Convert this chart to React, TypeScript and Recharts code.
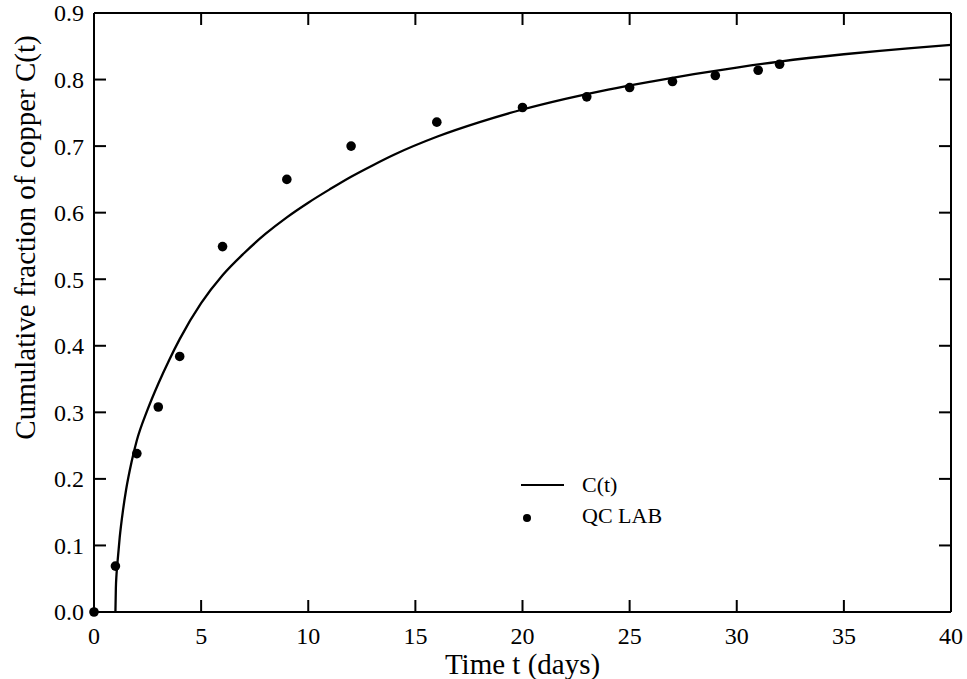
import React from 'react';
import { ComposedChart, Line, Scatter, XAxis, YAxis } from 'recharts';

// fitted curve C(t)
const curveDays = [1, 1.02, 1.05, 1.1, 1.2, 1.35, 1.5, 1.75, 2, 2.5, 3, 3.5, 4, 5, 6, 7, 8, 9, 10, 11, 12, 13, 14, 16, 18, 20, 22, 24, 26, 28, 30, 32, 35, 38, 40];
const curveFraction = [0, 0.035, 0.056, 0.076, 0.112, 0.152, 0.184, 0.225, 0.258, 0.304, 0.343, 0.378, 0.41, 0.464, 0.506, 0.539, 0.568, 0.593, 0.615, 0.635, 0.654, 0.671, 0.687, 0.714, 0.736, 0.755, 0.771, 0.785, 0.797, 0.808, 0.818, 0.827, 0.838, 0.847, 0.852];

// QC LAB measurements
const labDays = [0, 1, 2, 3, 4, 6, 9, 12, 16, 20, 23, 25, 27, 29, 31, 32];
const labFraction = [0, 0.069, 0.238, 0.308, 0.384, 0.549, 0.65, 0.7, 0.736, 0.758, 0.774, 0.788, 0.797, 0.806, 0.814, 0.823];

const xTicks = [0, 5, 10, 15, 20, 25, 30, 35, 40];
const yTicks = [0, 0.1, 0.2, 0.3, 0.4, 0.5, 0.6, 0.7, 0.8, 0.9];

const curveData = curveDays.map((t, i) => ({ t, y: curveFraction[i] }));
const labData = labDays.map((t, i) => ({ t, y: labFraction[i] }));

const FONT = '"Liberation Serif", "Times New Roman", serif';
const TICK_LEN = 12;
const X_GAP = 15;
const Y_GAP = 10;
const blank = () => '';
const axisStroke = { stroke: '#000', strokeWidth: 2 };

// label below the axis, tick mark pointing into the plot
const BottomTick = ({ x, y, payload }: any) => (
  <g>
    <line x1={x} x2={x} y1={y - X_GAP} y2={y - X_GAP - TICK_LEN} stroke="#000" strokeWidth={2} />
    <text x={x} y={y} dy="0.71em" textAnchor="middle" fontSize={24} fontFamily={FONT} fill="#000">
      {payload.value}
    </text>
  </g>
);

const LeftTick = ({ x, y, payload }: any) => (
  <g>
    <line x1={x + Y_GAP} x2={x + Y_GAP + TICK_LEN} y1={y} y2={y} stroke="#000" strokeWidth={2} />
    <text x={x} y={y} dy="0.35em" textAnchor="end" fontSize={24} fontFamily={FONT} fill="#000">
      {Number(payload.value).toFixed(1)}
    </text>
  </g>
);

const YTitle = ({ viewBox }: any) => {
  const cx = viewBox.x + 25;
  const cy = viewBox.y + viewBox.height / 2 - 75;
  return (
    <text
      x={cx}
      y={cy}
      transform={`rotate(-90, ${cx}, ${cy})`}
      textAnchor="middle"
      dominantBaseline="central"
      fontSize={29}
      fontFamily={FONT}
      fill="#000"
    >
      Cumulative fraction of copper C(t)
    </text>
  );
};

const legendItems = [
  { name: 'C(t)', kind: 'line' },
  { name: 'QC LAB', kind: 'dot' },
];

const App = () => {
  return (
    <div style={{ position: 'absolute', left: 0, top: 0, width: 967, height: 679, background: '#fff' }}>
      <ComposedChart width={967} height={679} margin={{ top: 13, right: 16, bottom: 0, left: 0 }}>
        <XAxis
          dataKey="t"
          type="number"
          domain={[0, 40]}
          ticks={xTicks}
          height={67}
          tick={<BottomTick />}
          tickSize={0}
          tickMargin={X_GAP}
          tickLine={false}
          axisLine={axisStroke}
          label={{ value: 'Time t (days)', position: 'insideBottom', offset: 5, fontSize: 29, fontFamily: FONT, fill: '#000' }}
        />
        <XAxis
          xAxisId="top"
          orientation="top"
          mirror
          dataKey="t"
          type="number"
          domain={[0, 40]}
          ticks={xTicks}
          tickSize={TICK_LEN}
          tickFormatter={blank}
          axisLine={axisStroke}
          tickLine={axisStroke}
        />
        <YAxis
          dataKey="y"
          type="number"
          domain={[0, 0.9]}
          ticks={yTicks}
          width={94}
          tick={<LeftTick />}
          tickSize={0}
          tickMargin={Y_GAP}
          tickLine={false}
          axisLine={axisStroke}
          label={<YTitle />}
        />
        <YAxis
          yAxisId="right"
          orientation="right"
          mirror
          dataKey="y"
          type="number"
          domain={[0, 0.9]}
          ticks={yTicks}
          tickSize={TICK_LEN}
          tickFormatter={blank}
          axisLine={axisStroke}
          tickLine={axisStroke}
        />
        {/* invisible copy so the top and right frame axes get a scale */}
        <Line
          data={curveData}
          dataKey="y"
          xAxisId="top"
          yAxisId="right"
          stroke="none"
          dot={false}
          activeDot={false}
          legendType="none"
          isAnimationActive={false}
        />
        <Line
          data={curveData}
          dataKey="y"
          name="C(t)"
          type="monotone"
          stroke="#000"
          strokeWidth={2.3}
          dot={false}
          activeDot={false}
          isAnimationActive={false}
        />
        <Scatter
          data={labData}
          dataKey="y"
          name="QC LAB"
          fill="#000"
          shape={(p: any) => <circle cx={p.cx} cy={p.cy} r={4.8} fill="#000" />}
          isAnimationActive={false}
        />
      </ComposedChart>
      <div style={{ position: 'absolute', left: 518, top: 469, fontFamily: FONT, fontSize: 22, color: '#000' }}>
        {legendItems.map((item) => (
          <div key={item.name} style={{ display: 'flex', alignItems: 'center', height: 31 }}>
            <svg width={64} height={20}>
              {item.kind === 'line' ? (
                <line x1={3} x2={46} y1={10} y2={10} stroke="#000" strokeWidth={2} />
              ) : (
                <circle cx={9} cy={12} r={4} fill="#000" />
              )}
            </svg>
            <span>{item.name}</span>
          </div>
        ))}
      </div>
    </div>
  );
};

export default App;
